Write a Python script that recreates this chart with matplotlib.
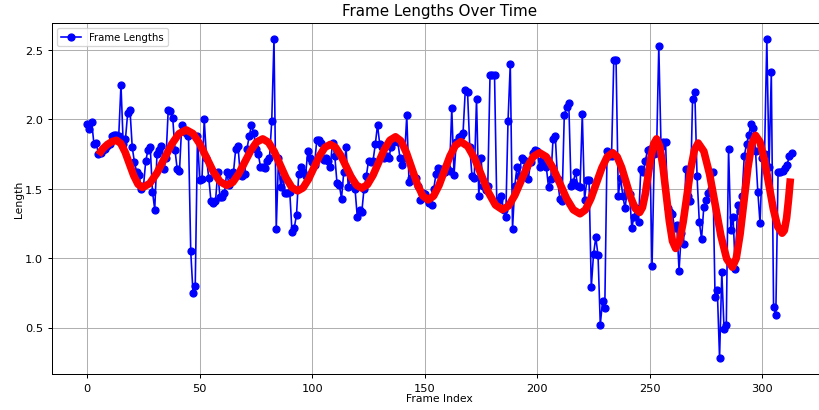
import matplotlib
matplotlib.use("Agg")
import matplotlib.pyplot as plt
import numpy as np

# --- frame lengths ---
frame_lengths = [
    1.97, 1.93, 1.98, 1.82, 1.83, 1.75, 1.76, 1.78, 1.79, 1.81,
    1.82, 1.88, 1.89, 1.89, 1.88, 2.25, 1.82, 1.86, 2.05, 2.07,
    1.80, 1.69, 1.62, 1.60, 1.50, 1.52, 1.70, 1.78, 1.80, 1.48,
    1.35, 1.75, 1.78, 1.81, 1.64, 1.72, 2.07, 2.06, 2.01, 1.78,
    1.64, 1.63, 1.96, 1.92, 1.90, 1.88, 1.05, 0.75, 0.80, 1.88,
    1.56, 1.57, 2.00, 1.72, 1.58, 1.41, 1.40, 1.41, 1.62, 1.44,
    1.44, 1.47, 1.62, 1.53, 1.60, 1.62, 1.79, 1.81, 1.60, 1.59,
    1.61, 1.79, 1.88, 1.96, 1.90, 1.79, 1.75, 1.66, 1.66, 1.65,
    1.70, 1.72, 1.99, 2.58, 1.21, 1.72, 1.51, 1.58, 1.47, 1.47,
    1.48, 1.19, 1.22, 1.31, 1.61, 1.66, 1.62, 1.59, 1.77, 1.72,
    1.69, 1.67, 1.85, 1.85, 1.83, 1.71, 1.72, 1.70, 1.66, 1.83,
    1.74, 1.54, 1.53, 1.43, 1.62, 1.80, 1.51, 1.58, 1.52, 1.50,
    1.30, 1.35, 1.33, 1.50, 1.59, 1.70, 1.69, 1.70, 1.82, 1.96,
    1.82, 1.80, 1.72, 1.74, 1.72, 1.80, 1.84, 1.86, 1.84, 1.72,
    1.67, 1.72, 2.03, 1.55, 1.58, 1.56, 1.58, 1.52, 1.42, 1.47,
    1.46, 1.43, 1.40, 1.38, 1.50, 1.61, 1.65, 1.64, 1.63, 1.62,
    1.65, 1.63, 2.08, 1.60, 1.84, 1.87, 1.88, 1.90, 2.21, 2.20,
    1.80, 1.59, 1.58, 2.15, 1.45, 1.72, 1.52, 1.49, 1.52, 2.32,
    2.32, 2.32, 1.40, 1.42, 1.45, 1.35, 1.30, 1.99, 2.40, 1.21,
    1.52, 1.66, 1.59, 1.72, 1.71, 1.66, 1.57, 1.69, 1.76, 1.78,
    1.77, 1.66, 1.71, 1.69, 1.66, 1.51, 1.57, 1.86, 1.88, 1.57,
    1.43, 1.41, 2.03, 2.09, 2.12, 1.52, 1.55, 1.62, 1.52, 1.51,
    2.04, 1.42, 1.56, 1.56, 0.79, 1.03, 1.15, 1.02, 0.52, 0.69,
    0.64, 1.77, 1.74, 1.74, 2.43, 2.43, 1.45, 1.58, 1.45, 1.36,
    1.49, 1.46, 1.22, 1.30, 1.36, 1.26, 1.64, 1.62, 1.70, 1.78,
    1.79, 0.94, 1.75, 1.76, 2.53, 1.80, 1.84, 1.84, 1.36, 1.33,
    1.32, 1.22, 1.24, 0.91, 1.18, 1.10, 1.64, 1.45, 1.41, 2.15,
    2.20, 1.59, 1.26, 1.14, 1.37, 1.42, 1.47, 1.50, 1.62, 0.72,
    0.77, 0.28, 0.90, 0.49, 0.52, 1.79, 1.20, 1.30, 0.92, 1.38,
    1.34, 1.45, 1.74, 1.82, 1.89, 1.97, 1.94, 1.77, 1.48, 1.25,
    1.72, 1.75, 2.58, 1.66, 2.34, 0.65, 0.59, 1.62, 1.62, 1.63,
    1.65, 1.67, 1.74, 1.76,
]
frame_index = np.arange(len(frame_lengths))

# --- smooth red trend ---
trend_x = [
    5, 7, 9, 11, 13,
    14.92, 16.83, 18.75, 20.67, 22.58, 24.5,
    27.75, 31, 34.25, 37.5, 40.75, 44,
    47, 50, 53, 56, 59, 62,
    64.67, 67.33, 70, 72.67, 75.33, 78,
    80.58, 83.17, 85.75, 88.33, 90.92, 93.5,
    95.92, 98.33, 100.75, 103.17, 105.58, 108,
    110.33, 112.67, 115, 117.33, 119.67, 122,
    124.5, 127, 129.5, 132, 134.5, 137,
    139.42, 141.83, 144.25, 146.67, 149.08, 151.5,
    153.92, 156.33, 158.75, 161.17, 163.58, 166,
    169.08, 172.17, 175.25, 178.33, 181.42, 184.5,
    187.25, 190, 192.75, 195.5, 198.25, 201,
    204, 207, 210, 213, 216, 219,
    221.42, 223.83, 226.25, 228.67, 231.08, 233.5,
    235.5, 237.5, 239.5, 241.5, 243.5, 245.5,
    246.75, 248, 249.25, 250.5, 251.75, 253,
    254.42, 255.83, 257.25, 258.67, 260.08, 261.5,
    263.17, 264.83, 266.5, 268.17, 269.83, 271.5,
    274.03, 276.57, 279.1, 281.63, 284.17, 286.7,
    288.42, 290.13, 291.85, 293.57, 295.28, 297,
    298.97, 300.93, 302.9, 304.87, 306.83, 308.8,
    309.8, 310.8, 311.7, 312.5,
]
trend_y = [
    1.745, 1.79, 1.82, 1.84, 1.85,
    1.827, 1.765, 1.68, 1.595, 1.533, 1.51,
    1.538, 1.614, 1.718, 1.821, 1.897, 1.925,
    1.898, 1.825, 1.725, 1.625, 1.552, 1.525,
    1.547, 1.609, 1.693, 1.776, 1.838, 1.86,
    1.835, 1.766, 1.673, 1.579, 1.51, 1.485,
    1.507, 1.569, 1.653, 1.736, 1.798, 1.82,
    1.799, 1.741, 1.663, 1.584, 1.526, 1.505,
    1.53, 1.598, 1.69, 1.783, 1.85, 1.875,
    1.845, 1.761, 1.648, 1.534, 1.45, 1.42,
    1.448, 1.525, 1.63, 1.735, 1.812, 1.84,
    1.807, 1.718, 1.595, 1.473, 1.383, 1.35,
    1.377, 1.453, 1.555, 1.658, 1.733, 1.76,
    1.731, 1.65, 1.54, 1.43, 1.349, 1.32,
    1.349, 1.43, 1.54, 1.65, 1.731, 1.76,
    1.731, 1.653, 1.545, 1.438, 1.359, 1.33,
    1.366, 1.463, 1.595, 1.728, 1.824, 1.86,
    1.807, 1.663, 1.465, 1.268, 1.123, 1.07,
    1.121, 1.26, 1.45, 1.64, 1.779, 1.83,
    1.77, 1.606, 1.383, 1.159, 0.995, 0.935,
    0.999, 1.173, 1.41, 1.648, 1.821, 1.885,
    1.838, 1.709, 1.533, 1.356, 1.227, 1.18,
    1.20, 1.29, 1.43, 1.575,
]

fig = plt.figure(figsize=(9.0, 4.516), dpi=91)
ax = fig.add_axes([0.0635, 0.0876, 0.946, 0.854])

ax.plot(frame_index, frame_lengths, color='blue', marker='o', markersize=5.5,
        linewidth=1.3, label='Frame Lengths')
ax.plot(trend_x, trend_y, color='red', linewidth=6, solid_capstyle='butt',
        solid_joinstyle='round')

ax.set_title('Frame Lengths Over Time')
ax.set_xlabel('Frame Index', fontsize=8.5, labelpad=0)
ax.set_ylabel('Length', fontsize=8.5, labelpad=1)
ax.tick_params(labelsize=9)
ax.grid(True)
ax.legend(loc='upper left', fontsize=8)

fig.savefig('out.png', dpi=91)
